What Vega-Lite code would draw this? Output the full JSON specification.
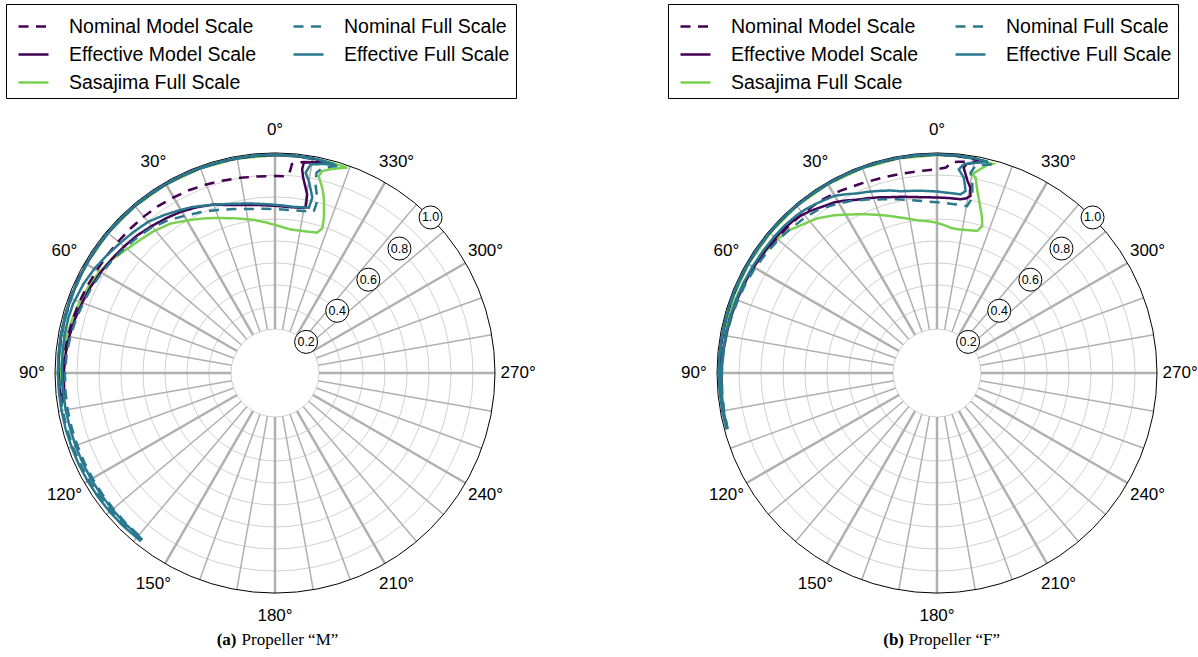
{
  "$schema": "https://vega.github.io/schema/vega-lite/v6.json",
  "background": "white",
  "padding": {"left": 5, "top": 3, "right": 0, "bottom": 0},
  "config": {"view": {"stroke": null}, "font": "Liberation Sans"},
  "datasets": {
    "rings": [{"r": 0.2}, {"r": 0.3}, {"r": 0.4}, {"r": 0.5}, {"r": 0.6}, {"r": 0.7}, {"r": 0.8}, {"r": 0.9}],
    "outer": [{"r": 1}],
    "spokesMajor": [{"deg": 0}, {"deg": 30}, {"deg": 60}, {"deg": 90}, {"deg": 120}, {"deg": 150}, {"deg": 180}, {"deg": 210}, {"deg": 240}, {"deg": 270}, {"deg": 300}, {"deg": 330}],
    "spokesMinor": [{"deg": 10}, {"deg": 20}, {"deg": 40}, {"deg": 50}, {"deg": 70}, {"deg": 80}, {"deg": 100}, {"deg": 110}, {"deg": 130}, {"deg": 140}, {"deg": 160}, {"deg": 170}, {"deg": 190}, {"deg": 200}, {"deg": 220}, {"deg": 230}, {"deg": 250}, {"deg": 260}, {"deg": 280}, {"deg": 290}, {"deg": 310}, {"deg": 320}, {"deg": 340}, {"deg": 350}],
    "angles": [{"deg": 0, "lab": "0°"}, {"deg": 30, "lab": "30°"}, {"deg": 60, "lab": "60°"}, {"deg": 90, "lab": "90°"}, {"deg": 120, "lab": "120°"}, {"deg": 150, "lab": "150°"}, {"deg": 180, "lab": "180°"}, {"deg": 210, "lab": "210°"}, {"deg": 240, "lab": "240°"}, {"deg": 270, "lab": "270°"}, {"deg": 300, "lab": "300°"}, {"deg": 330, "lab": "330°"}],
    "rlabels": [{"deg": 315, "r": 0.2, "lab": "0.2"}, {"deg": 315, "r": 0.4, "lab": "0.4"}, {"deg": 315, "r": 0.6, "lab": "0.6"}, {"deg": 315, "r": 0.8, "lab": "0.8"}, {"deg": 315, "r": 1.0, "lab": "1.0"}],
    "curvesL": [
      {"s":"Sasajima Full Scale","deg":99,"r":0.982},{"s":"Sasajima Full Scale","deg":95,"r":0.978},{"s":"Sasajima Full Scale","deg":90,"r":0.974},{"s":"Sasajima Full Scale","deg":85,"r":0.968},{"s":"Sasajima Full Scale","deg":80,"r":0.962},{"s":"Sasajima Full Scale","deg":75,"r":0.954},{"s":"Sasajima Full Scale","deg":70,"r":0.945},{"s":"Sasajima Full Scale","deg":65,"r":0.934},{"s":"Sasajima Full Scale","deg":60,"r":0.922},{"s":"Sasajima Full Scale","deg":55,"r":0.902},{"s":"Sasajima Full Scale","deg":53.4,"r":0.893},{"s":"Sasajima Full Scale","deg":48,"r":0.87},{"s":"Sasajima Full Scale","deg":44,"r":0.857},{"s":"Sasajima Full Scale","deg":41,"r":0.85},{"s":"Sasajima Full Scale","deg":35,"r":0.829},{"s":"Sasajima Full Scale","deg":28.9,"r":0.795},{"s":"Sasajima Full Scale","deg":24,"r":0.77},{"s":"Sasajima Full Scale","deg":20.5,"r":0.752},{"s":"Sasajima Full Scale","deg":14.9,"r":0.728},{"s":"Sasajima Full Scale","deg":8,"r":0.703},{"s":"Sasajima Full Scale","deg":3,"r":0.684},{"s":"Sasajima Full Scale","deg":358,"r":0.667},{"s":"Sasajima Full Scale","deg":353.8,"r":0.656},{"s":"Sasajima Full Scale","deg":350,"r":0.657},{"s":"Sasajima Full Scale","deg":346,"r":0.661},{"s":"Sasajima Full Scale","deg":343.3,"r":0.666},{"s":"Sasajima Full Scale","deg":341.9,"r":0.692},{"s":"Sasajima Full Scale","deg":342.5,"r":0.74},{"s":"Sasajima Full Scale","deg":343.5,"r":0.784},{"s":"Sasajima Full Scale","deg":344.5,"r":0.83},{"s":"Sasajima Full Scale","deg":345.7,"r":0.869},{"s":"Sasajima Full Scale","deg":347.5,"r":0.917},{"s":"Sasajima Full Scale","deg":346.8,"r":0.943},{"s":"Sasajima Full Scale","deg":345,"r":0.958},{"s":"Sasajima Full Scale","deg":343.1,"r":0.972},{"s":"Sasajima Full Scale","deg":340.6,"r":0.989},
      {"s":"Sasajima Full Scale","deg":345,"r":0.99},{"s":"Sasajima Full Scale","deg":350,"r":0.99},{"s":"Sasajima Full Scale","deg":355,"r":0.99},{"s":"Sasajima Full Scale","deg":0,"r":0.99},{"s":"Sasajima Full Scale","deg":10,"r":0.99},{"s":"Sasajima Full Scale","deg":20,"r":0.99},{"s":"Sasajima Full Scale","deg":30,"r":0.99},{"s":"Sasajima Full Scale","deg":40,"r":0.99},{"s":"Sasajima Full Scale","deg":50,"r":0.99},{"s":"Sasajima Full Scale","deg":60,"r":0.99},{"s":"Sasajima Full Scale","deg":70,"r":0.989},{"s":"Sasajima Full Scale","deg":80,"r":0.988},{"s":"Sasajima Full Scale","deg":90,"r":0.987},{"s":"Sasajima Full Scale","deg":99,"r":0.985},
      {"s":"Nominal Model Scale","deg":98,"r":0.972},{"s":"Nominal Model Scale","deg":95,"r":0.97},{"s":"Nominal Model Scale","deg":90,"r":0.966},{"s":"Nominal Model Scale","deg":85,"r":0.961},{"s":"Nominal Model Scale","deg":80,"r":0.956},{"s":"Nominal Model Scale","deg":75,"r":0.951},{"s":"Nominal Model Scale","deg":70,"r":0.946},{"s":"Nominal Model Scale","deg":65,"r":0.94},{"s":"Nominal Model Scale","deg":60,"r":0.935},{"s":"Nominal Model Scale","deg":55,"r":0.932},{"s":"Nominal Model Scale","deg":50,"r":0.93},{"s":"Nominal Model Scale","deg":45,"r":0.929},{"s":"Nominal Model Scale","deg":40,"r":0.928},{"s":"Nominal Model Scale","deg":35,"r":0.926},{"s":"Nominal Model Scale","deg":30,"r":0.922},{"s":"Nominal Model Scale","deg":25,"r":0.918},{"s":"Nominal Model Scale","deg":20,"r":0.912},{"s":"Nominal Model Scale","deg":15,"r":0.906},{"s":"Nominal Model Scale","deg":10,"r":0.901},{"s":"Nominal Model Scale","deg":5,"r":0.897},{"s":"Nominal Model Scale","deg":0,"r":0.895},{"s":"Nominal Model Scale","deg":357,"r":0.896},{"s":"Nominal Model Scale","deg":356,"r":0.905},{"s":"Nominal Model Scale","deg":355.6,"r":0.93},{"s":"Nominal Model Scale","deg":355.4,"r":0.952},{"s":"Nominal Model Scale","deg":354,"r":0.963},{"s":"Nominal Model Scale","deg":352,"r":0.968},{"s":"Nominal Model Scale","deg":349,"r":0.976},{"s":"Nominal Model Scale","deg":346.5,"r":0.981},{"s":"Nominal Model Scale","deg":344.5,"r":0.984},
      {"s":"Nominal Model Scale","deg":347,"r":0.987},{"s":"Nominal Model Scale","deg":350,"r":0.99},{"s":"Nominal Model Scale","deg":355,"r":0.991},{"s":"Nominal Model Scale","deg":0,"r":0.992},{"s":"Nominal Model Scale","deg":5,"r":0.992},{"s":"Nominal Model Scale","deg":10,"r":0.992},{"s":"Nominal Model Scale","deg":15,"r":0.992},{"s":"Nominal Model Scale","deg":20,"r":0.992},{"s":"Nominal Model Scale","deg":25,"r":0.992},{"s":"Nominal Model Scale","deg":30,"r":0.992},{"s":"Nominal Model Scale","deg":35,"r":0.992},{"s":"Nominal Model Scale","deg":40,"r":0.992},{"s":"Nominal Model Scale","deg":45,"r":0.992},{"s":"Nominal Model Scale","deg":50,"r":0.992},{"s":"Nominal Model Scale","deg":55,"r":0.992},{"s":"Nominal Model Scale","deg":60,"r":0.992},{"s":"Nominal Model Scale","deg":65,"r":0.991},{"s":"Nominal Model Scale","deg":70,"r":0.99},{"s":"Nominal Model Scale","deg":75,"r":0.989},{"s":"Nominal Model Scale","deg":80,"r":0.988},{"s":"Nominal Model Scale","deg":85,"r":0.987},{"s":"Nominal Model Scale","deg":90,"r":0.986},{"s":"Nominal Model Scale","deg":95,"r":0.984},{"s":"Nominal Model Scale","deg":98,"r":0.981},
      {"s":"Effective Model Scale","deg":97,"r":0.963},{"s":"Effective Model Scale","deg":95,"r":0.962},{"s":"Effective Model Scale","deg":90,"r":0.96},{"s":"Effective Model Scale","deg":85,"r":0.956},{"s":"Effective Model Scale","deg":80,"r":0.95},{"s":"Effective Model Scale","deg":75,"r":0.942},{"s":"Effective Model Scale","deg":70,"r":0.933},{"s":"Effective Model Scale","deg":65,"r":0.925},{"s":"Effective Model Scale","deg":60,"r":0.915},{"s":"Effective Model Scale","deg":55,"r":0.905},{"s":"Effective Model Scale","deg":50,"r":0.895},{"s":"Effective Model Scale","deg":45,"r":0.885},{"s":"Effective Model Scale","deg":40,"r":0.872},{"s":"Effective Model Scale","deg":35,"r":0.86},{"s":"Effective Model Scale","deg":30,"r":0.848},{"s":"Effective Model Scale","deg":25,"r":0.832},{"s":"Effective Model Scale","deg":20,"r":0.815},{"s":"Effective Model Scale","deg":15,"r":0.79},{"s":"Effective Model Scale","deg":10,"r":0.776},{"s":"Effective Model Scale","deg":5,"r":0.766},{"s":"Effective Model Scale","deg":0,"r":0.76},{"s":"Effective Model Scale","deg":355,"r":0.757},{"s":"Effective Model Scale","deg":351,"r":0.76},{"s":"Effective Model Scale","deg":349.5,"r":0.765},{"s":"Effective Model Scale","deg":349.6,"r":0.79},{"s":"Effective Model Scale","deg":349.8,"r":0.825},{"s":"Effective Model Scale","deg":350.8,"r":0.86},{"s":"Effective Model Scale","deg":351.8,"r":0.897},{"s":"Effective Model Scale","deg":352.4,"r":0.934},{"s":"Effective Model Scale","deg":352.2,"r":0.965},{"s":"Effective Model Scale","deg":350,"r":0.974},{"s":"Effective Model Scale","deg":348,"r":0.978},{"s":"Effective Model Scale","deg":344.7,"r":0.984},
      {"s":"Effective Model Scale","deg":347,"r":0.987},{"s":"Effective Model Scale","deg":350,"r":0.99},{"s":"Effective Model Scale","deg":355,"r":0.991},{"s":"Effective Model Scale","deg":0,"r":0.991},{"s":"Effective Model Scale","deg":5,"r":0.991},{"s":"Effective Model Scale","deg":10,"r":0.991},{"s":"Effective Model Scale","deg":15,"r":0.991},{"s":"Effective Model Scale","deg":20,"r":0.991},{"s":"Effective Model Scale","deg":25,"r":0.991},{"s":"Effective Model Scale","deg":30,"r":0.991},{"s":"Effective Model Scale","deg":35,"r":0.991},{"s":"Effective Model Scale","deg":40,"r":0.991},{"s":"Effective Model Scale","deg":45,"r":0.991},{"s":"Effective Model Scale","deg":50,"r":0.991},{"s":"Effective Model Scale","deg":55,"r":0.991},{"s":"Effective Model Scale","deg":60,"r":0.99},{"s":"Effective Model Scale","deg":65,"r":0.99},{"s":"Effective Model Scale","deg":70,"r":0.989},{"s":"Effective Model Scale","deg":75,"r":0.988},{"s":"Effective Model Scale","deg":80,"r":0.987},{"s":"Effective Model Scale","deg":85,"r":0.986},{"s":"Effective Model Scale","deg":90,"r":0.984},{"s":"Effective Model Scale","deg":95,"r":0.981},{"s":"Effective Model Scale","deg":97,"r":0.978},
      {"s":"Nominal Full Scale","deg":140,"r":0.963},{"s":"Nominal Full Scale","deg":135,"r":0.962},{"s":"Nominal Full Scale","deg":130,"r":0.96},{"s":"Nominal Full Scale","deg":125,"r":0.959},{"s":"Nominal Full Scale","deg":120,"r":0.958},{"s":"Nominal Full Scale","deg":115,"r":0.957},{"s":"Nominal Full Scale","deg":110,"r":0.957},{"s":"Nominal Full Scale","deg":105,"r":0.957},{"s":"Nominal Full Scale","deg":100,"r":0.957},{"s":"Nominal Full Scale","deg":95,"r":0.956},{"s":"Nominal Full Scale","deg":90,"r":0.955},{"s":"Nominal Full Scale","deg":85,"r":0.951},{"s":"Nominal Full Scale","deg":80,"r":0.945},{"s":"Nominal Full Scale","deg":75,"r":0.937},{"s":"Nominal Full Scale","deg":70,"r":0.928},{"s":"Nominal Full Scale","deg":65,"r":0.92},{"s":"Nominal Full Scale","deg":60,"r":0.91},{"s":"Nominal Full Scale","deg":55,"r":0.9},{"s":"Nominal Full Scale","deg":50,"r":0.888},{"s":"Nominal Full Scale","deg":45,"r":0.878},{"s":"Nominal Full Scale","deg":40.7,"r":0.868},{"s":"Nominal Full Scale","deg":35,"r":0.848},{"s":"Nominal Full Scale","deg":30.2,"r":0.825},{"s":"Nominal Full Scale","deg":25,"r":0.806},{"s":"Nominal Full Scale","deg":19.5,"r":0.786},{"s":"Nominal Full Scale","deg":14,"r":0.768},{"s":"Nominal Full Scale","deg":8.5,"r":0.754},{"s":"Nominal Full Scale","deg":4,"r":0.748},{"s":"Nominal Full Scale","deg":0,"r":0.745},{"s":"Nominal Full Scale","deg":354.6,"r":0.744},{"s":"Nominal Full Scale","deg":350,"r":0.748},{"s":"Nominal Full Scale","deg":346.5,"r":0.754},{"s":"Nominal Full Scale","deg":346.2,"r":0.805},{"s":"Nominal Full Scale","deg":347,"r":0.84},{"s":"Nominal Full Scale","deg":347.9,"r":0.877},{"s":"Nominal Full Scale","deg":348.3,"r":0.93},{"s":"Nominal Full Scale","deg":347,"r":0.955},{"s":"Nominal Full Scale","deg":345,"r":0.97},{"s":"Nominal Full Scale","deg":343.3,"r":0.982},
      {"s":"Nominal Full Scale","deg":347,"r":0.986},{"s":"Nominal Full Scale","deg":350,"r":0.988},{"s":"Nominal Full Scale","deg":355,"r":0.989},{"s":"Nominal Full Scale","deg":0,"r":0.99},{"s":"Nominal Full Scale","deg":5,"r":0.99},{"s":"Nominal Full Scale","deg":10,"r":0.99},{"s":"Nominal Full Scale","deg":15,"r":0.99},{"s":"Nominal Full Scale","deg":20,"r":0.99},{"s":"Nominal Full Scale","deg":25,"r":0.99},{"s":"Nominal Full Scale","deg":30,"r":0.99},{"s":"Nominal Full Scale","deg":35,"r":0.99},{"s":"Nominal Full Scale","deg":40,"r":0.99},{"s":"Nominal Full Scale","deg":45,"r":0.99},{"s":"Nominal Full Scale","deg":50,"r":0.99},{"s":"Nominal Full Scale","deg":55,"r":0.989},{"s":"Nominal Full Scale","deg":60,"r":0.988},{"s":"Nominal Full Scale","deg":65,"r":0.987},{"s":"Nominal Full Scale","deg":70,"r":0.986},{"s":"Nominal Full Scale","deg":75,"r":0.985},{"s":"Nominal Full Scale","deg":80,"r":0.984},{"s":"Nominal Full Scale","deg":85,"r":0.983},{"s":"Nominal Full Scale","deg":90,"r":0.982},{"s":"Nominal Full Scale","deg":95,"r":0.981},{"s":"Nominal Full Scale","deg":100,"r":0.98},{"s":"Nominal Full Scale","deg":105,"r":0.979},{"s":"Nominal Full Scale","deg":110,"r":0.978},{"s":"Nominal Full Scale","deg":115,"r":0.977},{"s":"Nominal Full Scale","deg":120,"r":0.976},{"s":"Nominal Full Scale","deg":125,"r":0.975},{"s":"Nominal Full Scale","deg":130,"r":0.974},{"s":"Nominal Full Scale","deg":135,"r":0.973},{"s":"Nominal Full Scale","deg":140,"r":0.972},
      {"s":"Effective Full Scale","deg":141.5,"r":0.968},{"s":"Effective Full Scale","deg":135,"r":0.966},{"s":"Effective Full Scale","deg":130,"r":0.965},{"s":"Effective Full Scale","deg":125,"r":0.965},{"s":"Effective Full Scale","deg":120,"r":0.965},{"s":"Effective Full Scale","deg":115,"r":0.965},{"s":"Effective Full Scale","deg":110,"r":0.965},{"s":"Effective Full Scale","deg":105,"r":0.965},{"s":"Effective Full Scale","deg":100,"r":0.966},{"s":"Effective Full Scale","deg":95,"r":0.967},{"s":"Effective Full Scale","deg":90,"r":0.968},{"s":"Effective Full Scale","deg":85,"r":0.97},{"s":"Effective Full Scale","deg":80,"r":0.972},{"s":"Effective Full Scale","deg":75,"r":0.972},{"s":"Effective Full Scale","deg":71,"r":0.97},{"s":"Effective Full Scale","deg":65,"r":0.96},{"s":"Effective Full Scale","deg":60,"r":0.948},{"s":"Effective Full Scale","deg":55,"r":0.933},{"s":"Effective Full Scale","deg":50,"r":0.919},{"s":"Effective Full Scale","deg":45,"r":0.908},{"s":"Effective Full Scale","deg":40,"r":0.897},{"s":"Effective Full Scale","deg":35,"r":0.877},{"s":"Effective Full Scale","deg":31,"r":0.86},{"s":"Effective Full Scale","deg":27,"r":0.845},{"s":"Effective Full Scale","deg":24,"r":0.831},{"s":"Effective Full Scale","deg":19,"r":0.81},{"s":"Effective Full Scale","deg":13.7,"r":0.792},{"s":"Effective Full Scale","deg":8,"r":0.778},{"s":"Effective Full Scale","deg":2.6,"r":0.768},{"s":"Effective Full Scale","deg":358,"r":0.763},{"s":"Effective Full Scale","deg":353.5,"r":0.76},{"s":"Effective Full Scale","deg":348.4,"r":0.767},{"s":"Effective Full Scale","deg":348,"r":0.815},{"s":"Effective Full Scale","deg":349,"r":0.85},{"s":"Effective Full Scale","deg":350,"r":0.886},{"s":"Effective Full Scale","deg":351.3,"r":0.921},{"s":"Effective Full Scale","deg":350.3,"r":0.962},{"s":"Effective Full Scale","deg":347,"r":0.975},{"s":"Effective Full Scale","deg":343.8,"r":0.985},
      {"s":"Effective Full Scale","deg":347,"r":0.989},{"s":"Effective Full Scale","deg":350,"r":0.991},{"s":"Effective Full Scale","deg":355,"r":0.992},{"s":"Effective Full Scale","deg":0,"r":0.993},{"s":"Effective Full Scale","deg":5,"r":0.993},{"s":"Effective Full Scale","deg":10,"r":0.993},{"s":"Effective Full Scale","deg":15,"r":0.993},{"s":"Effective Full Scale","deg":20,"r":0.993},{"s":"Effective Full Scale","deg":25,"r":0.993},{"s":"Effective Full Scale","deg":30,"r":0.993},{"s":"Effective Full Scale","deg":35,"r":0.993},{"s":"Effective Full Scale","deg":40,"r":0.993},{"s":"Effective Full Scale","deg":45,"r":0.993},{"s":"Effective Full Scale","deg":50,"r":0.992},{"s":"Effective Full Scale","deg":55,"r":0.992},{"s":"Effective Full Scale","deg":60,"r":0.991},{"s":"Effective Full Scale","deg":65,"r":0.99},{"s":"Effective Full Scale","deg":70,"r":0.99},{"s":"Effective Full Scale","deg":75,"r":0.989},{"s":"Effective Full Scale","deg":80,"r":0.988},{"s":"Effective Full Scale","deg":85,"r":0.988},{"s":"Effective Full Scale","deg":90,"r":0.987},{"s":"Effective Full Scale","deg":95,"r":0.986},{"s":"Effective Full Scale","deg":100,"r":0.985},{"s":"Effective Full Scale","deg":105,"r":0.985},{"s":"Effective Full Scale","deg":110,"r":0.984},{"s":"Effective Full Scale","deg":115,"r":0.984},{"s":"Effective Full Scale","deg":120,"r":0.983},{"s":"Effective Full Scale","deg":125,"r":0.982},{"s":"Effective Full Scale","deg":130,"r":0.981},{"s":"Effective Full Scale","deg":135,"r":0.98},{"s":"Effective Full Scale","deg":141.5,"r":0.978}
    ],
    "curvesR": [
      {"s":"Sasajima Full Scale","deg":80,"r":0.983},{"s":"Sasajima Full Scale","deg":75,"r":0.979},{"s":"Sasajima Full Scale","deg":70,"r":0.975},{"s":"Sasajima Full Scale","deg":65,"r":0.97},{"s":"Sasajima Full Scale","deg":60,"r":0.964},{"s":"Sasajima Full Scale","deg":55,"r":0.956},{"s":"Sasajima Full Scale","deg":50,"r":0.946},{"s":"Sasajima Full Scale","deg":46,"r":0.935},{"s":"Sasajima Full Scale","deg":43.9,"r":0.92},{"s":"Sasajima Full Scale","deg":40,"r":0.9},{"s":"Sasajima Full Scale","deg":37.6,"r":0.888},{"s":"Sasajima Full Scale","deg":33,"r":0.855},{"s":"Sasajima Full Scale","deg":28.6,"r":0.821},{"s":"Sasajima Full Scale","deg":24,"r":0.79},{"s":"Sasajima Full Scale","deg":18.7,"r":0.757},{"s":"Sasajima Full Scale","deg":13,"r":0.725},{"s":"Sasajima Full Scale","deg":7.4,"r":0.7},{"s":"Sasajima Full Scale","deg":3,"r":0.69},{"s":"Sasajima Full Scale","deg":0,"r":0.683},{"s":"Sasajima Full Scale","deg":357,"r":0.672},{"s":"Sasajima Full Scale","deg":354.6,"r":0.663},{"s":"Sasajima Full Scale","deg":352,"r":0.66},{"s":"Sasajima Full Scale","deg":348,"r":0.664},{"s":"Sasajima Full Scale","deg":344.2,"r":0.671},{"s":"Sasajima Full Scale","deg":342.9,"r":0.699},{"s":"Sasajima Full Scale","deg":344,"r":0.74},{"s":"Sasajima Full Scale","deg":345.3,"r":0.777},{"s":"Sasajima Full Scale","deg":347.5,"r":0.847},{"s":"Sasajima Full Scale","deg":348.8,"r":0.905},{"s":"Sasajima Full Scale","deg":350,"r":0.917},{"s":"Sasajima Full Scale","deg":348.7,"r":0.936},{"s":"Sasajima Full Scale","deg":347.5,"r":0.955},{"s":"Sasajima Full Scale","deg":346.4,"r":0.973},{"s":"Sasajima Full Scale","deg":345.2,"r":0.984},
      {"s":"Sasajima Full Scale","deg":350,"r":0.989},{"s":"Sasajima Full Scale","deg":355,"r":0.99},{"s":"Sasajima Full Scale","deg":0,"r":0.991},{"s":"Sasajima Full Scale","deg":10,"r":0.991},{"s":"Sasajima Full Scale","deg":20,"r":0.991},{"s":"Sasajima Full Scale","deg":30,"r":0.991},{"s":"Sasajima Full Scale","deg":40,"r":0.991},{"s":"Sasajima Full Scale","deg":50,"r":0.99},{"s":"Sasajima Full Scale","deg":60,"r":0.99},{"s":"Sasajima Full Scale","deg":70,"r":0.989},{"s":"Sasajima Full Scale","deg":80,"r":0.988},
      {"s":"Nominal Model Scale","deg":95,"r":0.984},{"s":"Nominal Model Scale","deg":90,"r":0.982},{"s":"Nominal Model Scale","deg":85,"r":0.98},{"s":"Nominal Model Scale","deg":80,"r":0.977},{"s":"Nominal Model Scale","deg":75,"r":0.974},{"s":"Nominal Model Scale","deg":70,"r":0.97},{"s":"Nominal Model Scale","deg":65,"r":0.966},{"s":"Nominal Model Scale","deg":60,"r":0.962},{"s":"Nominal Model Scale","deg":55,"r":0.957},{"s":"Nominal Model Scale","deg":50,"r":0.952},{"s":"Nominal Model Scale","deg":46,"r":0.949},{"s":"Nominal Model Scale","deg":40,"r":0.948},{"s":"Nominal Model Scale","deg":34,"r":0.946},{"s":"Nominal Model Scale","deg":28,"r":0.938},{"s":"Nominal Model Scale","deg":22,"r":0.928},{"s":"Nominal Model Scale","deg":15,"r":0.922},{"s":"Nominal Model Scale","deg":10,"r":0.92},{"s":"Nominal Model Scale","deg":4,"r":0.922},{"s":"Nominal Model Scale","deg":0,"r":0.926},{"s":"Nominal Model Scale","deg":357.5,"r":0.935},{"s":"Nominal Model Scale","deg":356.5,"r":0.95},{"s":"Nominal Model Scale","deg":356,"r":0.96},{"s":"Nominal Model Scale","deg":354,"r":0.966},{"s":"Nominal Model Scale","deg":352,"r":0.97},{"s":"Nominal Model Scale","deg":349,"r":0.977},{"s":"Nominal Model Scale","deg":347,"r":0.982},
      {"s":"Nominal Model Scale","deg":350,"r":0.988},{"s":"Nominal Model Scale","deg":355,"r":0.991},{"s":"Nominal Model Scale","deg":0,"r":0.993},{"s":"Nominal Model Scale","deg":5,"r":0.993},{"s":"Nominal Model Scale","deg":10,"r":0.993},{"s":"Nominal Model Scale","deg":15,"r":0.993},{"s":"Nominal Model Scale","deg":20,"r":0.993},{"s":"Nominal Model Scale","deg":25,"r":0.993},{"s":"Nominal Model Scale","deg":30,"r":0.993},{"s":"Nominal Model Scale","deg":35,"r":0.993},{"s":"Nominal Model Scale","deg":40,"r":0.993},{"s":"Nominal Model Scale","deg":45,"r":0.993},{"s":"Nominal Model Scale","deg":50,"r":0.993},{"s":"Nominal Model Scale","deg":55,"r":0.993},{"s":"Nominal Model Scale","deg":60,"r":0.993},{"s":"Nominal Model Scale","deg":65,"r":0.992},{"s":"Nominal Model Scale","deg":70,"r":0.992},{"s":"Nominal Model Scale","deg":75,"r":0.992},{"s":"Nominal Model Scale","deg":80,"r":0.991},{"s":"Nominal Model Scale","deg":85,"r":0.991},{"s":"Nominal Model Scale","deg":90,"r":0.99},{"s":"Nominal Model Scale","deg":95,"r":0.988},
      {"s":"Effective Model Scale","deg":95,"r":0.982},{"s":"Effective Model Scale","deg":90,"r":0.98},{"s":"Effective Model Scale","deg":85,"r":0.977},{"s":"Effective Model Scale","deg":80,"r":0.974},{"s":"Effective Model Scale","deg":75,"r":0.971},{"s":"Effective Model Scale","deg":70,"r":0.968},{"s":"Effective Model Scale","deg":65,"r":0.965},{"s":"Effective Model Scale","deg":60,"r":0.962},{"s":"Effective Model Scale","deg":55,"r":0.959},{"s":"Effective Model Scale","deg":50,"r":0.957},{"s":"Effective Model Scale","deg":46.5,"r":0.955},{"s":"Effective Model Scale","deg":43,"r":0.952},{"s":"Effective Model Scale","deg":40.7,"r":0.945},{"s":"Effective Model Scale","deg":38,"r":0.935},{"s":"Effective Model Scale","deg":35,"r":0.92},{"s":"Effective Model Scale","deg":31,"r":0.905},{"s":"Effective Model Scale","deg":28,"r":0.888},{"s":"Effective Model Scale","deg":24.9,"r":0.868},{"s":"Effective Model Scale","deg":21.7,"r":0.855},{"s":"Effective Model Scale","deg":18,"r":0.84},{"s":"Effective Model Scale","deg":14.9,"r":0.827},{"s":"Effective Model Scale","deg":11.7,"r":0.818},{"s":"Effective Model Scale","deg":8,"r":0.808},{"s":"Effective Model Scale","deg":4.3,"r":0.801},{"s":"Effective Model Scale","deg":0,"r":0.798},{"s":"Effective Model Scale","deg":356,"r":0.797},{"s":"Effective Model Scale","deg":352.3,"r":0.797},{"s":"Effective Model Scale","deg":350.5,"r":0.805},{"s":"Effective Model Scale","deg":349.3,"r":0.819},{"s":"Effective Model Scale","deg":349.8,"r":0.856},{"s":"Effective Model Scale","deg":351,"r":0.885},{"s":"Effective Model Scale","deg":351.8,"r":0.912},{"s":"Effective Model Scale","deg":352.6,"r":0.941},{"s":"Effective Model Scale","deg":352,"r":0.958},{"s":"Effective Model Scale","deg":350.1,"r":0.971},{"s":"Effective Model Scale","deg":348.5,"r":0.98},{"s":"Effective Model Scale","deg":346.6,"r":0.987},
      {"s":"Effective Model Scale","deg":350,"r":0.99},{"s":"Effective Model Scale","deg":355,"r":0.992},{"s":"Effective Model Scale","deg":0,"r":0.993},{"s":"Effective Model Scale","deg":5,"r":0.993},{"s":"Effective Model Scale","deg":10,"r":0.993},{"s":"Effective Model Scale","deg":15,"r":0.993},{"s":"Effective Model Scale","deg":20,"r":0.993},{"s":"Effective Model Scale","deg":25,"r":0.993},{"s":"Effective Model Scale","deg":30,"r":0.993},{"s":"Effective Model Scale","deg":35,"r":0.993},{"s":"Effective Model Scale","deg":40,"r":0.993},{"s":"Effective Model Scale","deg":45,"r":0.993},{"s":"Effective Model Scale","deg":50,"r":0.993},{"s":"Effective Model Scale","deg":55,"r":0.993},{"s":"Effective Model Scale","deg":60,"r":0.992},{"s":"Effective Model Scale","deg":65,"r":0.992},{"s":"Effective Model Scale","deg":70,"r":0.992},{"s":"Effective Model Scale","deg":75,"r":0.991},{"s":"Effective Model Scale","deg":80,"r":0.991},{"s":"Effective Model Scale","deg":85,"r":0.99},{"s":"Effective Model Scale","deg":90,"r":0.99},{"s":"Effective Model Scale","deg":95,"r":0.988},
      {"s":"Nominal Full Scale","deg":105,"r":0.985},{"s":"Nominal Full Scale","deg":100,"r":0.983},{"s":"Nominal Full Scale","deg":95,"r":0.98},{"s":"Nominal Full Scale","deg":90,"r":0.978},{"s":"Nominal Full Scale","deg":85,"r":0.975},{"s":"Nominal Full Scale","deg":80,"r":0.972},{"s":"Nominal Full Scale","deg":75,"r":0.968},{"s":"Nominal Full Scale","deg":70,"r":0.964},{"s":"Nominal Full Scale","deg":65,"r":0.96},{"s":"Nominal Full Scale","deg":60,"r":0.955},{"s":"Nominal Full Scale","deg":55,"r":0.948},{"s":"Nominal Full Scale","deg":50,"r":0.942},{"s":"Nominal Full Scale","deg":46,"r":0.935},{"s":"Nominal Full Scale","deg":41,"r":0.928},{"s":"Nominal Full Scale","deg":36.2,"r":0.918},{"s":"Nominal Full Scale","deg":33,"r":0.903},{"s":"Nominal Full Scale","deg":30,"r":0.89},{"s":"Nominal Full Scale","deg":26.7,"r":0.875},{"s":"Nominal Full Scale","deg":22,"r":0.85},{"s":"Nominal Full Scale","deg":17,"r":0.826},{"s":"Nominal Full Scale","deg":13,"r":0.81},{"s":"Nominal Full Scale","deg":9,"r":0.796},{"s":"Nominal Full Scale","deg":6,"r":0.787},{"s":"Nominal Full Scale","deg":3,"r":0.78},{"s":"Nominal Full Scale","deg":0,"r":0.776},{"s":"Nominal Full Scale","deg":355.5,"r":0.772},{"s":"Nominal Full Scale","deg":352,"r":0.771},{"s":"Nominal Full Scale","deg":349.8,"r":0.771},{"s":"Nominal Full Scale","deg":348.6,"r":0.813},{"s":"Nominal Full Scale","deg":349.1,"r":0.85},{"s":"Nominal Full Scale","deg":349.6,"r":0.887},{"s":"Nominal Full Scale","deg":350.5,"r":0.923},{"s":"Nominal Full Scale","deg":349.5,"r":0.957},{"s":"Nominal Full Scale","deg":347,"r":0.972},{"s":"Nominal Full Scale","deg":344.8,"r":0.983},
      {"s":"Nominal Full Scale","deg":348,"r":0.987},{"s":"Nominal Full Scale","deg":352,"r":0.989},{"s":"Nominal Full Scale","deg":356,"r":0.991},{"s":"Nominal Full Scale","deg":0,"r":0.992},{"s":"Nominal Full Scale","deg":5,"r":0.992},{"s":"Nominal Full Scale","deg":10,"r":0.992},{"s":"Nominal Full Scale","deg":15,"r":0.992},{"s":"Nominal Full Scale","deg":20,"r":0.992},{"s":"Nominal Full Scale","deg":25,"r":0.992},{"s":"Nominal Full Scale","deg":30,"r":0.992},{"s":"Nominal Full Scale","deg":35,"r":0.992},{"s":"Nominal Full Scale","deg":40,"r":0.992},{"s":"Nominal Full Scale","deg":45,"r":0.992},{"s":"Nominal Full Scale","deg":50,"r":0.992},{"s":"Nominal Full Scale","deg":55,"r":0.991},{"s":"Nominal Full Scale","deg":60,"r":0.991},{"s":"Nominal Full Scale","deg":65,"r":0.991},{"s":"Nominal Full Scale","deg":70,"r":0.99},{"s":"Nominal Full Scale","deg":75,"r":0.99},{"s":"Nominal Full Scale","deg":80,"r":0.99},{"s":"Nominal Full Scale","deg":85,"r":0.99},{"s":"Nominal Full Scale","deg":90,"r":0.99},{"s":"Nominal Full Scale","deg":95,"r":0.989},{"s":"Nominal Full Scale","deg":100,"r":0.989},{"s":"Nominal Full Scale","deg":105,"r":0.988},
      {"s":"Effective Full Scale","deg":105,"r":0.987},{"s":"Effective Full Scale","deg":100,"r":0.985},{"s":"Effective Full Scale","deg":95,"r":0.983},{"s":"Effective Full Scale","deg":90,"r":0.981},{"s":"Effective Full Scale","deg":85,"r":0.978},{"s":"Effective Full Scale","deg":80,"r":0.976},{"s":"Effective Full Scale","deg":75,"r":0.974},{"s":"Effective Full Scale","deg":70,"r":0.972},{"s":"Effective Full Scale","deg":65,"r":0.97},{"s":"Effective Full Scale","deg":60,"r":0.968},{"s":"Effective Full Scale","deg":55,"r":0.966},{"s":"Effective Full Scale","deg":50,"r":0.965},{"s":"Effective Full Scale","deg":46,"r":0.964},{"s":"Effective Full Scale","deg":42,"r":0.96},{"s":"Effective Full Scale","deg":39,"r":0.955},{"s":"Effective Full Scale","deg":36,"r":0.947},{"s":"Effective Full Scale","deg":33,"r":0.938},{"s":"Effective Full Scale","deg":30,"r":0.93},{"s":"Effective Full Scale","deg":27,"r":0.912},{"s":"Effective Full Scale","deg":24.1,"r":0.894},{"s":"Effective Full Scale","deg":21,"r":0.882},{"s":"Effective Full Scale","deg":17.5,"r":0.868},{"s":"Effective Full Scale","deg":14.3,"r":0.856},{"s":"Effective Full Scale","deg":11.4,"r":0.843},{"s":"Effective Full Scale","deg":8,"r":0.836},{"s":"Effective Full Scale","deg":4.1,"r":0.83},{"s":"Effective Full Scale","deg":0,"r":0.825},{"s":"Effective Full Scale","deg":355.7,"r":0.82},{"s":"Effective Full Scale","deg":352.5,"r":0.819},{"s":"Effective Full Scale","deg":351.1,"r":0.837},{"s":"Effective Full Scale","deg":351.6,"r":0.866},{"s":"Effective Full Scale","deg":352.2,"r":0.896},{"s":"Effective Full Scale","deg":353.9,"r":0.931},{"s":"Effective Full Scale","deg":352.7,"r":0.956},{"s":"Effective Full Scale","deg":351,"r":0.966},{"s":"Effective Full Scale","deg":349.2,"r":0.973},{"s":"Effective Full Scale","deg":346.6,"r":0.987},
      {"s":"Effective Full Scale","deg":350,"r":0.991},{"s":"Effective Full Scale","deg":355,"r":0.993},{"s":"Effective Full Scale","deg":0,"r":0.994},{"s":"Effective Full Scale","deg":5,"r":0.994},{"s":"Effective Full Scale","deg":10,"r":0.994},{"s":"Effective Full Scale","deg":15,"r":0.994},{"s":"Effective Full Scale","deg":20,"r":0.994},{"s":"Effective Full Scale","deg":25,"r":0.994},{"s":"Effective Full Scale","deg":30,"r":0.994},{"s":"Effective Full Scale","deg":35,"r":0.994},{"s":"Effective Full Scale","deg":40,"r":0.994},{"s":"Effective Full Scale","deg":45,"r":0.994},{"s":"Effective Full Scale","deg":50,"r":0.994},{"s":"Effective Full Scale","deg":55,"r":0.993},{"s":"Effective Full Scale","deg":60,"r":0.993},{"s":"Effective Full Scale","deg":65,"r":0.993},{"s":"Effective Full Scale","deg":70,"r":0.993},{"s":"Effective Full Scale","deg":75,"r":0.992},{"s":"Effective Full Scale","deg":80,"r":0.992},{"s":"Effective Full Scale","deg":85,"r":0.992},{"s":"Effective Full Scale","deg":90,"r":0.992},{"s":"Effective Full Scale","deg":95,"r":0.991},{"s":"Effective Full Scale","deg":100,"r":0.991},{"s":"Effective Full Scale","deg":105,"r":0.99}
    ]
  },
  "hconcat": [
    {
      "width": 440, "height": 440,
      "layer": [
        {"data": {"name": "rings"},
         "mark": {"type": "point", "shape": "circle", "filled": false, "stroke": "#c4c4c4", "strokeWidth": 0.8, "opacity": 1},
         "encoding": {
           "x": {"datum": 0, "type": "quantitative", "scale": {"domain": [-1, 1], "nice": false, "zero": false}, "axis": null},
           "y": {"datum": 0, "type": "quantitative", "scale": {"domain": [-1, 1], "nice": false, "zero": false}, "axis": null},
           "size": {"field": "r", "type": "quantitative", "scale": {"type": "pow", "exponent": 2, "domain": [0, 1], "range": [0, 193600]}, "legend": null}}},
        {"data": {"name": "spokesMinor"},
         "transform": [{"calculate": "-0.2*sin(datum.deg*PI/180)", "as": "x0"}, {"calculate": "0.2*cos(datum.deg*PI/180)", "as": "y0"}, {"calculate": "-sin(datum.deg*PI/180)", "as": "x1"}, {"calculate": "cos(datum.deg*PI/180)", "as": "y1"}],
         "mark": {"type": "rule", "stroke": "#b0b0b0", "strokeWidth": 1.5},
         "encoding": {"x": {"field": "x0", "type": "quantitative"}, "y": {"field": "y0", "type": "quantitative"}, "x2": {"field": "x1"}, "y2": {"field": "y1"}}},
        {"data": {"name": "spokesMajor"},
         "transform": [{"calculate": "-0.2*sin(datum.deg*PI/180)", "as": "x0"}, {"calculate": "0.2*cos(datum.deg*PI/180)", "as": "y0"}, {"calculate": "-sin(datum.deg*PI/180)", "as": "x1"}, {"calculate": "cos(datum.deg*PI/180)", "as": "y1"}],
         "mark": {"type": "rule", "stroke": "#b0b0b0", "strokeWidth": 2.5},
         "encoding": {"x": {"field": "x0", "type": "quantitative"}, "y": {"field": "y0", "type": "quantitative"}, "x2": {"field": "x1"}, "y2": {"field": "y1"}}},
        {"data": {"name": "outer"},
         "mark": {"type": "point", "shape": "circle", "filled": false, "stroke": "#000000", "strokeWidth": 1, "opacity": 1},
         "encoding": {"x": {"datum": 0, "type": "quantitative"}, "y": {"datum": 0, "type": "quantitative"},
           "size": {"field": "r", "type": "quantitative", "legend": null}}},
        {"data": {"name": "curvesL"},
         "transform": [{"calculate": "-datum.r*sin(datum.deg*PI/180)", "as": "x"}, {"calculate": "datum.r*cos(datum.deg*PI/180)", "as": "y"}],
         "mark": {"type": "line", "strokeWidth": 2.5},
         "encoding": {
           "x": {"field": "x", "type": "quantitative"},
           "y": {"field": "y", "type": "quantitative"},
           "order": {"value": null},
           "color": {"field": "s", "type": "nominal",
             "scale": {"domain": ["Nominal Model Scale", "Effective Model Scale", "Sasajima Full Scale", "Nominal Full Scale", "Effective Full Scale"], "range": ["#440154", "#440154", "#7ad151", "#2a788e", "#2a788e"]},
             "legend": {"title": null, "orient": "none", "legendX": -49, "legendY": -149, "columns": 2, "strokeColor": "#000000", "fillColor": "white", "padding": 6, "symbolOffset": 5, "cornerRadius": 0, "symbolType": "stroke", "symbolSize": 900, "symbolStrokeWidth": 2.5, "labelFont": "Liberation Sans", "labelFontSize": 19.5, "labelColor": "black", "labelOffset": 19, "labelLimit": 400, "columnPadding": 30, "rowPadding": 2}},
           "strokeDash": {"field": "s", "type": "nominal",
             "scale": {"domain": ["Nominal Model Scale", "Effective Model Scale", "Sasajima Full Scale", "Nominal Full Scale", "Effective Full Scale"], "range": [[10, 7.5], [1, 0], [1, 0], [10, 7.5], [1, 0]]},
             "legend": {"title": null, "orient": "none", "legendX": -49, "legendY": -149, "columns": 2, "strokeColor": "#000000", "fillColor": "white", "padding": 6, "symbolOffset": 5, "cornerRadius": 0, "symbolType": "stroke", "symbolSize": 900, "symbolStrokeWidth": 2.5, "labelFont": "Liberation Sans", "labelFontSize": 19.5, "labelColor": "black", "labelOffset": 19, "labelLimit": 400, "columnPadding": 30, "rowPadding": 2}}
         }},
        {"data": {"name": "rlabels"},
         "transform": [{"calculate": "-datum.r*sin(datum.deg*PI/180)", "as": "x"}, {"calculate": "datum.r*cos(datum.deg*PI/180)", "as": "y"}],
         "mark": {"type": "point", "shape": "circle", "size": 530, "filled": true, "fill": "white", "stroke": "black", "strokeWidth": 1, "opacity": 1},
         "encoding": {"x": {"field": "x", "type": "quantitative"}, "y": {"field": "y", "type": "quantitative"}}},
        {"data": {"name": "rlabels"},
         "transform": [{"calculate": "-datum.r*sin(datum.deg*PI/180)", "as": "x"}, {"calculate": "datum.r*cos(datum.deg*PI/180)", "as": "y"}],
         "mark": {"type": "text", "font": "Liberation Sans", "fontSize": 12.5, "align": "center", "baseline": "middle", "color": "black"},
         "encoding": {"x": {"field": "x", "type": "quantitative"}, "y": {"field": "y", "type": "quantitative"}, "text": {"field": "lab"}}},
        {"data": {"name": "angles"},
         "transform": [{"calculate": "-1.105*sin(datum.deg*PI/180)", "as": "x"}, {"calculate": "1.105*cos(datum.deg*PI/180)", "as": "y"}],
         "mark": {"type": "text", "font": "Liberation Sans", "fontSize": 17, "align": "center", "baseline": "middle", "color": "black"},
         "encoding": {"x": {"field": "x", "type": "quantitative"}, "y": {"field": "y", "type": "quantitative"}, "text": {"field": "lab"}}},
        {"data": {"values": [{"t": "(a)"}]},
         "mark": {"type": "text", "font": "Liberation Serif", "fontSize": 17, "fontWeight": "bold", "align": "right", "baseline": "middle", "color": "black"},
         "encoding": {"x": {"datum": -0.175}, "y": {"datum": -1.215}, "text": {"field": "t"}}},
        {"data": {"values": [{"t": "Propeller “M”"}]},
         "mark": {"type": "text", "font": "Liberation Serif", "fontSize": 17, "align": "left", "baseline": "middle", "color": "black"},
         "encoding": {"x": {"datum": -0.152}, "y": {"datum": -1.215}, "text": {"field": "t"}}}
      ]
    },
    {
      "width": 440, "height": 440,
      "layer": [
        {"data": {"name": "rings"},
         "mark": {"type": "point", "shape": "circle", "filled": false, "stroke": "#c4c4c4", "strokeWidth": 0.8, "opacity": 1},
         "encoding": {
           "x": {"datum": 0, "type": "quantitative", "scale": {"domain": [-1, 1], "nice": false, "zero": false}, "axis": null},
           "y": {"datum": 0, "type": "quantitative", "scale": {"domain": [-1, 1], "nice": false, "zero": false}, "axis": null},
           "size": {"field": "r", "type": "quantitative", "scale": {"type": "pow", "exponent": 2, "domain": [0, 1], "range": [0, 193600]}, "legend": null}}},
        {"data": {"name": "spokesMinor"},
         "transform": [{"calculate": "-0.2*sin(datum.deg*PI/180)", "as": "x0"}, {"calculate": "0.2*cos(datum.deg*PI/180)", "as": "y0"}, {"calculate": "-sin(datum.deg*PI/180)", "as": "x1"}, {"calculate": "cos(datum.deg*PI/180)", "as": "y1"}],
         "mark": {"type": "rule", "stroke": "#b0b0b0", "strokeWidth": 1.5},
         "encoding": {"x": {"field": "x0", "type": "quantitative"}, "y": {"field": "y0", "type": "quantitative"}, "x2": {"field": "x1"}, "y2": {"field": "y1"}}},
        {"data": {"name": "spokesMajor"},
         "transform": [{"calculate": "-0.2*sin(datum.deg*PI/180)", "as": "x0"}, {"calculate": "0.2*cos(datum.deg*PI/180)", "as": "y0"}, {"calculate": "-sin(datum.deg*PI/180)", "as": "x1"}, {"calculate": "cos(datum.deg*PI/180)", "as": "y1"}],
         "mark": {"type": "rule", "stroke": "#b0b0b0", "strokeWidth": 2.5},
         "encoding": {"x": {"field": "x0", "type": "quantitative"}, "y": {"field": "y0", "type": "quantitative"}, "x2": {"field": "x1"}, "y2": {"field": "y1"}}},
        {"data": {"name": "outer"},
         "mark": {"type": "point", "shape": "circle", "filled": false, "stroke": "#000000", "strokeWidth": 1, "opacity": 1},
         "encoding": {"x": {"datum": 0, "type": "quantitative"}, "y": {"datum": 0, "type": "quantitative"},
           "size": {"field": "r", "type": "quantitative", "legend": null}}},
        {"data": {"name": "curvesR"},
         "transform": [{"calculate": "-datum.r*sin(datum.deg*PI/180)", "as": "x"}, {"calculate": "datum.r*cos(datum.deg*PI/180)", "as": "y"}],
         "mark": {"type": "line", "strokeWidth": 2.5},
         "encoding": {
           "x": {"field": "x", "type": "quantitative"},
           "y": {"field": "y", "type": "quantitative"},
           "order": {"value": null},
           "color": {"field": "s", "type": "nominal",
             "scale": {"domain": ["Nominal Model Scale", "Effective Model Scale", "Sasajima Full Scale", "Nominal Full Scale", "Effective Full Scale"], "range": ["#440154", "#440154", "#7ad151", "#2a788e", "#2a788e"]},
             "legend": {"title": null, "orient": "none", "legendX": -49, "legendY": -149, "columns": 2, "strokeColor": "#000000", "fillColor": "white", "padding": 6, "symbolOffset": 5, "cornerRadius": 0, "symbolType": "stroke", "symbolSize": 900, "symbolStrokeWidth": 2.5, "labelFont": "Liberation Sans", "labelFontSize": 19.5, "labelColor": "black", "labelOffset": 19, "labelLimit": 400, "columnPadding": 30, "rowPadding": 2}},
           "strokeDash": {"field": "s", "type": "nominal",
             "scale": {"domain": ["Nominal Model Scale", "Effective Model Scale", "Sasajima Full Scale", "Nominal Full Scale", "Effective Full Scale"], "range": [[10, 7.5], [1, 0], [1, 0], [10, 7.5], [1, 0]]},
             "legend": {"title": null, "orient": "none", "legendX": -49, "legendY": -149, "columns": 2, "strokeColor": "#000000", "fillColor": "white", "padding": 6, "symbolOffset": 5, "cornerRadius": 0, "symbolType": "stroke", "symbolSize": 900, "symbolStrokeWidth": 2.5, "labelFont": "Liberation Sans", "labelFontSize": 19.5, "labelColor": "black", "labelOffset": 19, "labelLimit": 400, "columnPadding": 30, "rowPadding": 2}}
         }},
        {"data": {"name": "rlabels"},
         "transform": [{"calculate": "-datum.r*sin(datum.deg*PI/180)", "as": "x"}, {"calculate": "datum.r*cos(datum.deg*PI/180)", "as": "y"}],
         "mark": {"type": "point", "shape": "circle", "size": 530, "filled": true, "fill": "white", "stroke": "black", "strokeWidth": 1, "opacity": 1},
         "encoding": {"x": {"field": "x", "type": "quantitative"}, "y": {"field": "y", "type": "quantitative"}}},
        {"data": {"name": "rlabels"},
         "transform": [{"calculate": "-datum.r*sin(datum.deg*PI/180)", "as": "x"}, {"calculate": "datum.r*cos(datum.deg*PI/180)", "as": "y"}],
         "mark": {"type": "text", "font": "Liberation Sans", "fontSize": 12.5, "align": "center", "baseline": "middle", "color": "black"},
         "encoding": {"x": {"field": "x", "type": "quantitative"}, "y": {"field": "y", "type": "quantitative"}, "text": {"field": "lab"}}},
        {"data": {"name": "angles"},
         "transform": [{"calculate": "-1.105*sin(datum.deg*PI/180)", "as": "x"}, {"calculate": "1.105*cos(datum.deg*PI/180)", "as": "y"}],
         "mark": {"type": "text", "font": "Liberation Sans", "fontSize": 17, "align": "center", "baseline": "middle", "color": "black"},
         "encoding": {"x": {"field": "x", "type": "quantitative"}, "y": {"field": "y", "type": "quantitative"}, "text": {"field": "lab"}}},
        {"data": {"values": [{"t": "(b)"}]},
         "mark": {"type": "text", "font": "Liberation Serif", "fontSize": 17, "fontWeight": "bold", "align": "right", "baseline": "middle", "color": "black"},
         "encoding": {"x": {"datum": -0.15}, "y": {"datum": -1.215}, "text": {"field": "t"}}},
        {"data": {"values": [{"t": "Propeller “F”"}]},
         "mark": {"type": "text", "font": "Liberation Serif", "fontSize": 17, "align": "left", "baseline": "middle", "color": "black"},
         "encoding": {"x": {"datum": -0.128}, "y": {"datum": -1.215}, "text": {"field": "t"}}}
      ]
    }
  ],
  "spacing": 222,
  "bounds": "flush",
  "resolve": {"scale": {"color": "independent", "strokeDash": "independent"}}
}
